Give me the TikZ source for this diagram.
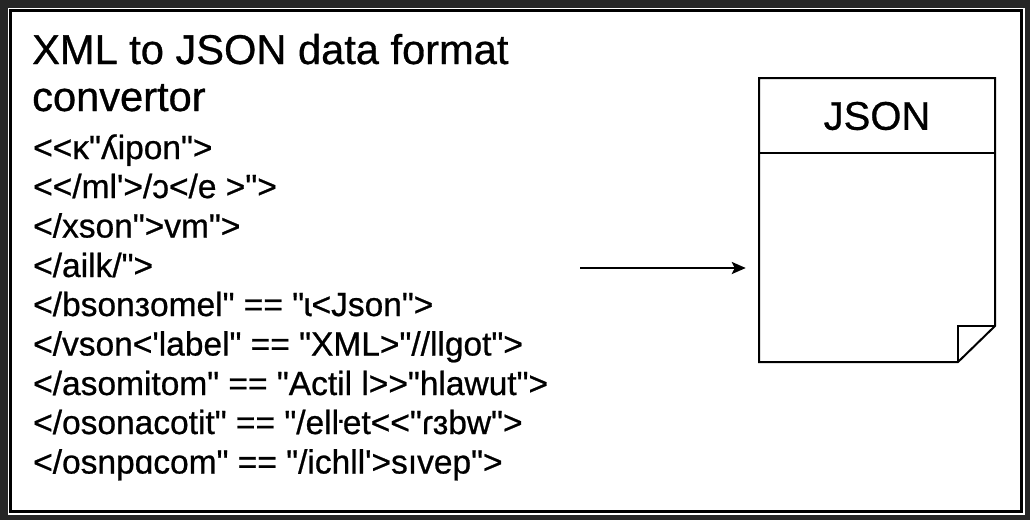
\documentclass[tikz,border=0pt]{standalone}
\usepackage{fontspec}
\newfontfamily\hv[FakeBold=0.7]{Liberation Sans}
\usetikzlibrary{arrows.meta}
\begin{document}
\begin{tikzpicture}[x=1pt,y=-1pt,
  codeline/.style={anchor=base west,inner sep=0pt,font=\hv\fontsize{33.5}{33.5}\selectfont},
  titleline/.style={anchor=base west,inner sep=0pt,font=\hv\fontsize{41.6}{41.6}\selectfont},
  boxline/.style={line width=2pt,black,line join=miter},
  arrowline/.style={line width=2.6pt,-{Stealth[length=14pt,width=12pt,inset=3pt]}}]
\useasboundingbox (0,0) rectangle (1030,520);
\fill[black!85] (0,0) rectangle (1030,520);
\fill[white] (8,8) rectangle (1025,515);
\draw[line width=2.5pt,black] (10.5,10.5) rectangle (1021.5,511.5);
% title
\node[titleline] (t1) at (32,64) {XML to JSON data format};
\node[titleline] (t2) at (32,111) {convertor};
% code lines
\node[codeline] (l1) at (33,159) {<<κ"ʎipon">};
\node[codeline] (l2) at (33,198) {<</mlʹ>/ɔ</e >">};
\node[codeline] (l3) at (33,237.5) {</xson">vm">};
\node[codeline] (l4) at (33,277) {</ailk/">};
\node[codeline] (l5) at (33,316) {</bsonзomel" == "ɩ<Json">};
\node[codeline] (l6) at (33,355.5) {</vson<'label" == "XML>"//llgot">};
\node[codeline] (l7) at (33,395) {</asomitom" == "Actil l>>"hlawut">};
\node[codeline] (l8) at (33,434) {</osonacotit" == "/elŀet<<"ɾɜbw">};
\node[codeline] (l9) at (33,473.5) {</osnpɑcom" == "/ichll'>sıvep">};
% JSON document
\node[minimum width=236pt,minimum height=284pt,inner sep=0pt] (json) at (877,220) {};
\draw[boxline] (759,78) -- (995,78) -- (995,326) -- (958,362) -- (759,362) -- cycle;
\draw[boxline] (759,153) -- (995,153);
\draw[boxline] (958,362) -- (958,326) -- (995,326);
\node[font=\hv\fontsize{40}{40}\selectfont,inner sep=0pt] (jt) at (877,116) {JSON};
% arrow
\coordinate (src) at (580,268);
\draw[arrowline,shorten >=13pt] (src) -- (src -| json.west);
\end{tikzpicture}
\end{document}
